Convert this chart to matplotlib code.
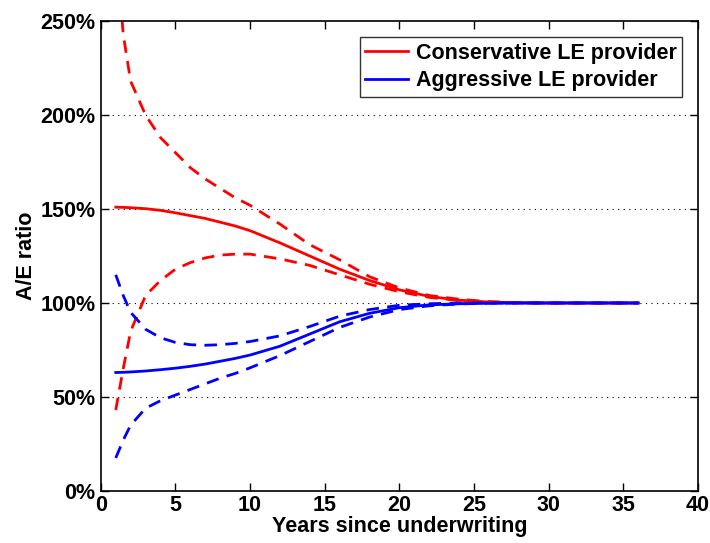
import matplotlib
matplotlib.use('Agg')
import matplotlib.pyplot as plt

# Values (A/E ratio in %)
years = [1, 1.5, 2, 3, 4, 5, 6, 7, 8, 9, 10, 12, 14, 16, 18, 20, 22, 24, 26, 28, 30, 33, 36]

cons_mid = [151, 150.9, 150.7, 150.2, 149.3, 148, 146.5, 145, 143, 141, 138.5, 132, 125, 118, 112,
            107, 103.5, 101.5, 100.5, 100.1, 100, 100, 100]
cons_hi = [295, 243, 218, 200, 188, 180, 172, 166, 161, 156, 152, 142, 131, 123, 114,
           108, 104, 102, 100.7, 100.2, 100, 100, 100]
cons_lo = [43, 65, 85, 104, 112, 118, 121.5, 124, 125.5, 126, 126, 123.5, 120, 115, 110,
           106, 103, 101.3, 100.5, 100.1, 100, 100, 100]

aggr_mid = [63, 63.1, 63.3, 63.8, 64.5, 65.3, 66.3, 67.5, 69, 70.5, 72.3, 77, 83.5, 90, 94.5,
            97.5, 99, 99.6, 99.9, 100, 100, 100, 100]
aggr_hi = [115, 104, 95, 86, 81.5, 79, 77.8, 77.5, 77.8, 78.5, 79.5, 82.5, 87.5, 93, 96.5,
           98.8, 99.6, 100, 100, 100, 100, 100, 100]
aggr_lo = [17.5, 27, 35, 44, 48, 51, 54, 57, 60, 62.5, 65.5, 72, 79.5, 87, 92.5,
           96.5, 98.5, 99.5, 99.9, 100, 100, 100, 100]

labels = ['Conservative LE provider', 'Aggressive LE provider']

plt.rcParams['font.family'] = ['Liberation Sans', 'DejaVu Sans']
plt.rcParams['font.weight'] = 'bold'

fig = plt.figure(figsize=(7.1, 5.43), dpi=100)
ax = fig.add_axes([0.142, 0.096, 0.841, 0.865])

lw = 2.0
dash = (0, (4.5, 3))
ax.plot(years, cons_mid, color='#ff0000', lw=lw, label=labels[0])
ax.plot(years, aggr_mid, color='#0000ff', lw=lw, label=labels[1])
ax.plot(years, cons_hi, color='#ff0000', lw=lw, linestyle=dash)
ax.plot(years, cons_lo, color='#ff0000', lw=lw, linestyle=dash)
ax.plot(years, aggr_hi, color='#0000ff', lw=lw, linestyle=dash)
ax.plot(years, aggr_lo, color='#0000ff', lw=lw, linestyle=dash)

ax.set_xlim(0, 40)
ax.set_ylim(0, 250)
ax.set_xticks(range(0, 41, 5))
ax.set_yticks(range(0, 251, 50))
ax.set_yticklabels([f'{v}%' for v in range(0, 251, 50)])

# dotted horizontal grid
for v in [50, 100, 150, 200]:
    ax.axhline(v, color='black', lw=0.8, linestyle=(0, (1, 4)), zorder=0)

ax.tick_params(direction='in', top=True, right=True, length=6, width=1,
               labelsize=15.5)
ax.tick_params(axis='y', pad=4)
ax.tick_params(axis='x', pad=3)
for lab in ax.get_xticklabels() + ax.get_yticklabels():
    lab.set_fontweight('bold')
for s in ax.spines.values():
    s.set_linewidth(1.2)

ax.set_xlabel('Years since underwriting', fontsize=15.5, fontweight='bold', labelpad=0)
ax.set_ylabel('A/E ratio', fontsize=15.5, fontweight='bold', labelpad=2)

leg = ax.legend(loc='upper right', fontsize=15.5, frameon=True, fancybox=False,
                edgecolor='black', borderaxespad=0.75, handlelength=2.0,
                handletextpad=0.35, borderpad=0.25, labelspacing=0.3)
leg.get_frame().set_linewidth(1.0)
for t in leg.get_texts():
    t.set_fontweight('bold')

fig.savefig('out.png', dpi=100)
plt.close(fig)
